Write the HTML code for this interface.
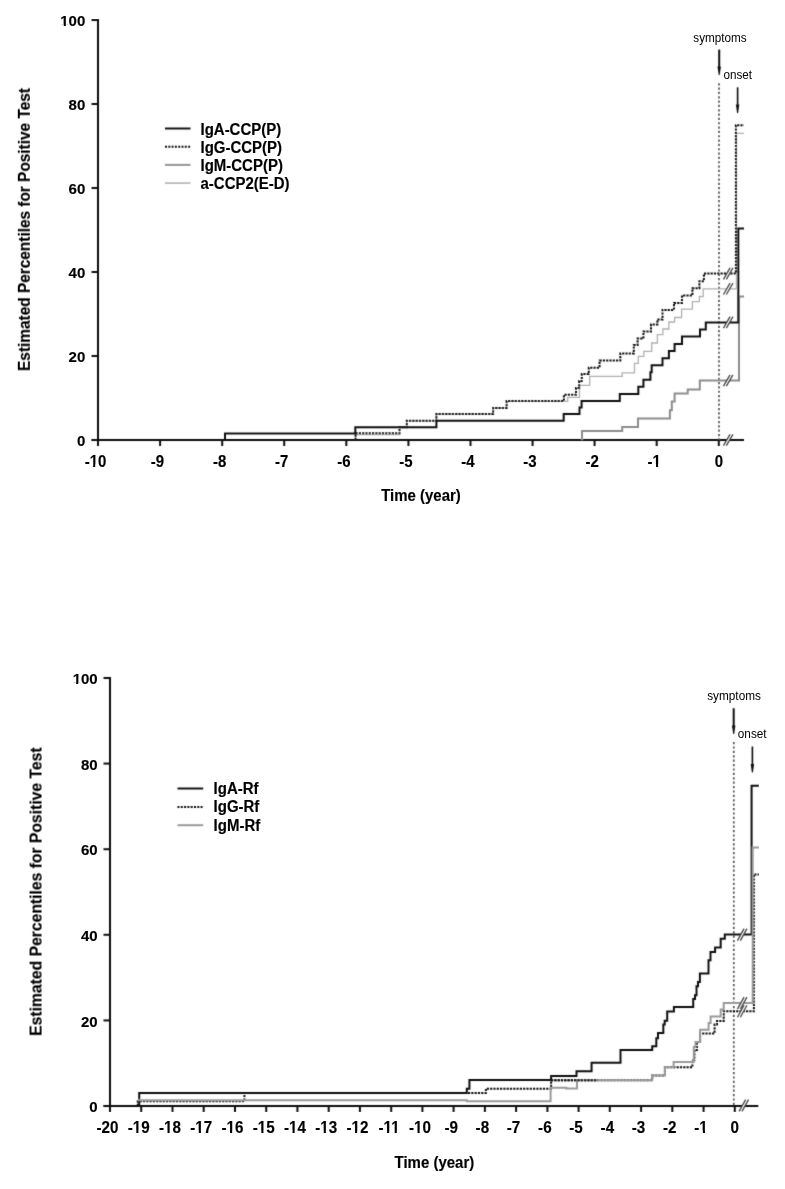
<!DOCTYPE html>
<html><head><meta charset="utf-8"><title>Estimated Percentiles for Positive Test</title>
<style>html,body{margin:0;padding:0;background:#fff;width:785px;height:1189px;overflow:hidden}svg{display:block}</style>
</head><body>
<svg width="785" height="1189" viewBox="0 0 785 1189">
<style>.ax{stroke:#111;stroke-width:2;fill:none}.t{font-family:"Liberation Sans",sans-serif;font-weight:bold;fill:#000;stroke:#000;stroke-width:0.15}.r{font-family:"Liberation Sans",sans-serif;fill:#000}.c{fill:none;stroke-linejoin:miter;stroke-linecap:butt}</style>
<defs><filter id="bl" x="0" y="0" width="100%" height="100%"><feConvolveMatrix order="3" kernelMatrix="0.0144 0.0912 0.0144 0.0912 0.5776 0.0912 0.0144 0.0912 0.0144" edgeMode="none"/></filter><filter id="id0" x="0" y="0" width="100%" height="100%"><feOffset dx="0" dy="0"/></filter></defs>
<rect width="785" height="1189" fill="#fff"/>
<g filter="url(#bl)">
<path d="M98 19V440" class="ax"/>
<path d="M91.5 440H98" class="ax"/>
<path d="M91.5 356H98" class="ax"/>
<path d="M91.5 272H98" class="ax"/>
<path d="M91.5 188H98" class="ax"/>
<path d="M91.5 104H98" class="ax"/>
<path d="M91.5 20H98" class="ax"/>
<path d="M91.5 440H744" class="ax"/>
<path d="M98 440V446" class="ax"/>
<path d="M160.1 440V446" class="ax"/>
<path d="M222.2 440V446" class="ax"/>
<path d="M284.2 440V446" class="ax"/>
<path d="M346.3 440V446" class="ax"/>
<path d="M408.4 440V446" class="ax"/>
<path d="M470.5 440V446" class="ax"/>
<path d="M532.6 440V446" class="ax"/>
<path d="M594.6 440V446" class="ax"/>
<path d="M656.7 440V446" class="ax"/>
<path d="M718.8 440V446" class="ax"/>
<path d="M719 83.2V440" stroke="#555" stroke-width="1.7" stroke-dasharray="2.2 2.13" fill="none"/>
<path d="M355.4 440H355.4V434.6H399.5V427.2H406.8V420.8H436.4V414.1H493.2V408H506.6V401.3H567.7V397.4H579.5V385.3H589.7V376.3H622.2V372.9H634.5V363.4H638.3V356.4H643.8V351.3H651.7V343H657.4V334.7H662.9V329H668.9V322H674.6V317.5H681.6V309.2H692.4V301.6H699.4V296.5H703.2V288.8H736.5V133.4H744" class="c" stroke="#b0b0b0" stroke-width="1.3"/>
<path d="M582 440H582V431H622.2V426.9H638V418.5H669.9V410.2H671.8V401.6H674.6V393.5H687.7V389.5H699.8V380.5H739V296.4H744" class="c" stroke="#8c8c8c" stroke-width="2"/>
<path d="M225 440H225V433.5H355.3V427.2H436.4V420.8H563.7V413.9H579.5V407.4H581.6V400.9H619.8V393.9H638.3V386.7H643.4V379.7H650.4V372.3H651.7V365.3H662.5V358.3H668.9V351H674.6V343.9H682V336.6H700V329.6H705.8V322.4H738.3V228.6H744" class="c" stroke="#111" stroke-width="2"/>
<path d="M355.6 440H355.6V433.3H399.5V427.2H406.8V420.8H436.4V414.1H493.2V408H506.6V401.1H563.9V394.8H576V388H579.2V381H581.8V374.1H588.8V367.7H599.6V360.5H620.3V353.4H633.8V345H637.6V338.5H643.4V331.5H651V324.5H657.4V319.4H662.5V309.9H674V302.9H682V295.6H692.4V288.2H699.4V281.2H703.9V273.6H735.9V125.2H744" class="c" stroke="#111" stroke-width="2" stroke-dasharray="2.2 1.1"/>
<path d="M723.5 445.7L730.1 434.3L732.9 434.3L726.3 445.7Z" fill="#fff"/><path d="M723.5 445.7L730.1 434.3M726.3 445.7L732.9 434.3" stroke="#333" stroke-width="1.3" fill="none"/>
<path d="M723.5 279.3L730.1 267.9L732.9 267.9L726.3 279.3Z" fill="#fff"/><path d="M723.5 279.3L730.1 267.9M726.3 279.3L732.9 267.9" stroke="#333" stroke-width="1.3" fill="none"/>
<path d="M723.5 294.5L730.1 283.1L732.9 283.1L726.3 294.5Z" fill="#fff"/><path d="M723.5 294.5L730.1 283.1M726.3 294.5L732.9 283.1" stroke="#333" stroke-width="1.3" fill="none"/>
<path d="M723.5 328.1L730.1 316.7L732.9 316.7L726.3 328.1Z" fill="#fff"/><path d="M723.5 328.1L730.1 316.7M726.3 328.1L732.9 316.7" stroke="#333" stroke-width="1.3" fill="none"/>
<path d="M723.5 386.2L730.1 374.8L732.9 374.8L726.3 386.2Z" fill="#fff"/><path d="M723.5 386.2L730.1 374.8M726.3 386.2L732.9 374.8" stroke="#333" stroke-width="1.3" fill="none"/>
<path d="M719.2 49.6V69" stroke="#111" stroke-width="2"/><path d="M717.5 66.5L718.7 75L719.7 75L720.9 66.5Z" fill="#111"/>
<path d="M737.6 87.3V107" stroke="#111" stroke-width="1.6"/><path d="M735.9 104.5L737.1 113L738.1 113L739.3 104.5Z" fill="#111"/>
<path d="M165 128.5H190.5" stroke="#111" stroke-width="2"/>
<path d="M165 146.7H190.5" stroke="#111" stroke-width="2" stroke-dasharray="2 1.3"/>
<path d="M165 164.9H190.5" stroke="#959595" stroke-width="2"/>
<path d="M165 183.1H190.5" stroke="#b3b3b3" stroke-width="1.6"/>
<path d="M110 677V1106" class="ax"/>
<path d="M103.5 1106H110" class="ax"/>
<path d="M103.5 1020.4H110" class="ax"/>
<path d="M103.5 934.8H110" class="ax"/>
<path d="M103.5 849.2H110" class="ax"/>
<path d="M103.5 763.6H110" class="ax"/>
<path d="M103.5 678H110" class="ax"/>
<path d="M103.5 1106H758.3" class="ax"/>
<path d="M110 1106V1112" class="ax"/>
<path d="M141.2 1106V1112" class="ax"/>
<path d="M172.5 1106V1112" class="ax"/>
<path d="M203.7 1106V1112" class="ax"/>
<path d="M235 1106V1112" class="ax"/>
<path d="M266.2 1106V1112" class="ax"/>
<path d="M297.4 1106V1112" class="ax"/>
<path d="M328.7 1106V1112" class="ax"/>
<path d="M359.9 1106V1112" class="ax"/>
<path d="M391.2 1106V1112" class="ax"/>
<path d="M422.4 1106V1112" class="ax"/>
<path d="M453.6 1106V1112" class="ax"/>
<path d="M484.9 1106V1112" class="ax"/>
<path d="M516.1 1106V1112" class="ax"/>
<path d="M547.4 1106V1112" class="ax"/>
<path d="M578.6 1106V1112" class="ax"/>
<path d="M609.8 1106V1112" class="ax"/>
<path d="M641.1 1106V1112" class="ax"/>
<path d="M672.3 1106V1112" class="ax"/>
<path d="M703.6 1106V1112" class="ax"/>
<path d="M734.8 1106V1112" class="ax"/>
<path d="M733.8 742V1106" stroke="#555" stroke-width="1.7" stroke-dasharray="2.2 2.2" fill="none"/>
<path d="M139.2 1106H139.2V1093H466.8V1088.7H469.4V1080.1H551.1V1075.9H576.5V1071.2H591.6V1062.8H620.5V1050H652.2V1046.2H656.3V1038.3H658V1033.1H663.3V1024.4H664.7V1020.8H667.2V1011.6H673.9V1007.1H693.2V998.9H695V995.3H696.5V986.2H698V982.1H699.9V973.4H708.5V960.2H710.5V952H715.1V947.4H720.7V938.8H724.8V934.6H751.6V785.7H758.9" class="c" stroke="#111" stroke-width="2"/>
<path d="M137.8 1106H137.8V1101.2H244.4V1093H485.9V1088.7H551.1V1080.2H652.2V1075.6H664.9V1067.3H692.4V1060H694.5V1050H697V1042H700.1V1033.4H714.6V1024.6H717V1020.9H723.7V1011.3H753.9V874.4H759" class="c" stroke="#111" stroke-width="2" stroke-dasharray="2.2 1.1"/>
<path d="M138 1100.2H466.8V1101.3H550.6V1087.8H566.3V1088.6H577V1080.2H652.2V1075.6H664.9V1067.3H673.6V1062H693.8V1047H695.5V1042.1H700.1V1029.7H708.6V1022.9H710.6V1016.5H720.7V1009.5H723.7V1003.1H752.7V847.6H759" class="c" stroke="#999" stroke-width="2"/>
<path d="M551.1 1080.2H597.5" class="c" stroke="#111" stroke-width="2" stroke-dasharray="2.2 1.1"/>
<path d="M739.1 1111.4L745.7 1099.6L748.5 1099.6L741.9 1111.4Z" fill="#fff"/><path d="M739.1 1111.4L745.7 1099.6M741.9 1111.4L748.5 1099.6" stroke="#333" stroke-width="1.3" fill="none"/>
<path d="M737.5 940.6L744.1 928.6L746.9 928.6L740.3 940.6Z" fill="#fff"/><path d="M737.5 940.6L744.1 928.6M740.3 940.6L746.9 928.6" stroke="#333" stroke-width="1.3" fill="none"/>
<path d="M737.5 1009.1L744.1 997.1L746.9 997.1L740.3 1009.1Z" fill="#fff"/><path d="M737.5 1009.1L744.1 997.1M740.3 1009.1L746.9 997.1" stroke="#333" stroke-width="1.3" fill="none"/>
<path d="M737.5 1017.3L744.1 1005.3L746.9 1005.3L740.3 1017.3Z" fill="#fff"/><path d="M737.5 1017.3L744.1 1005.3M740.3 1017.3L746.9 1005.3" stroke="#333" stroke-width="1.3" fill="none"/>
<path d="M733.7 708.2V728" stroke="#111" stroke-width="2"/><path d="M732.0 725.5L733.2 734L734.2 734L735.4 725.5Z" fill="#111"/>
<path d="M752.4 746.5V766.6" stroke="#111" stroke-width="1.6"/><path d="M750.7 764.1L751.9 772.6L752.9 772.6L754.1 764.1Z" fill="#111"/>
<path d="M177.5 788.5H203.2" stroke="#111" stroke-width="2"/>
<path d="M177.5 806.9H203.2" stroke="#111" stroke-width="2" stroke-dasharray="2 1.3"/>
<path d="M177.5 825.2H203.2" stroke="#9a9a9a" stroke-width="2"/>
</g>
<g class="txt" filter="url(#id0)">
<text class="t yt" transform="matrix(1 0 0 1.0 85.3 446.1)" font-size="15" text-anchor="end">0</text>
<text class="t yt" transform="matrix(1 0 0 1.0 85.3 362.1)" font-size="15" text-anchor="end">20</text>
<text class="t yt" transform="matrix(1 0 0 1.0 85.3 278.1)" font-size="15" text-anchor="end">40</text>
<text class="t yt" transform="matrix(1 0 0 1.0 85.3 194.1)" font-size="15" text-anchor="end">60</text>
<text class="t yt" transform="matrix(1 0 0 1.0 85.3 110.1)" font-size="15" text-anchor="end">80</text>
<text class="t yt" transform="matrix(1 0 0 1.0 85.3 26.1)" font-size="15" text-anchor="end">100</text>
<text class="t" transform="matrix(1 0 0 1.05 106.3 466.5)" font-size="15" text-anchor="end">-10</text>
<text class="t" transform="matrix(1 0 0 1.05 164.2 466.5)" font-size="15" text-anchor="end">-9</text>
<text class="t" transform="matrix(1 0 0 1.05 226.3 466.5)" font-size="15" text-anchor="end">-8</text>
<text class="t" transform="matrix(1 0 0 1.05 288.4 466.5)" font-size="15" text-anchor="end">-7</text>
<text class="t" transform="matrix(1 0 0 1.05 350.5 466.5)" font-size="15" text-anchor="end">-6</text>
<text class="t" transform="matrix(1 0 0 1.05 412.6 466.5)" font-size="15" text-anchor="end">-5</text>
<text class="t" transform="matrix(1 0 0 1.05 474.7 466.5)" font-size="15" text-anchor="end">-4</text>
<text class="t" transform="matrix(1 0 0 1.05 536.7 466.5)" font-size="15" text-anchor="end">-3</text>
<text class="t" transform="matrix(1 0 0 1.05 598.8 466.5)" font-size="15" text-anchor="end">-2</text>
<text class="t" transform="matrix(1 0 0 1.05 660.9 466.5)" font-size="15" text-anchor="end">-1</text>
<text class="t" transform="matrix(1 0 0 1.05 723 466.5)" font-size="15" text-anchor="end">0</text>
<text class="t" transform="matrix(1 0 0 1.05 421 501.5)" font-size="15" text-anchor="middle">Time (year)</text>
<text class="t" font-size="15.4" text-anchor="middle" transform="translate(29.8 229.5) rotate(-90) scale(1 1.07)">Estimated Percentiles for Positive Test</text>
<text class="r" transform="matrix(1 0 0 1.02 693.3 41.6)" font-size="11.7">symptoms</text>
<text class="r" transform="matrix(1 0 0 1.02 723.5 79)" font-size="11.7">onset</text>
<text class="t" transform="matrix(1 0 0 1.05 200.5 134.5)" font-size="15">IgA-CCP(P)</text>
<text class="t" transform="matrix(1 0 0 1.05 200.5 152.7)" font-size="15">IgG-CCP(P)</text>
<text class="t" transform="matrix(1 0 0 1.05 200.5 170.9)" font-size="15">IgM-CCP(P)</text>
<text class="t" transform="matrix(1 0 0 1.05 200.5 189.1)" font-size="15">a-CCP2(E-D)</text>
<text class="t yt" transform="matrix(1 0 0 1.0 97.7 1112.1)" font-size="15" text-anchor="end">0</text>
<text class="t yt" transform="matrix(1 0 0 1.0 97.7 1026.5)" font-size="15" text-anchor="end">20</text>
<text class="t yt" transform="matrix(1 0 0 1.0 97.7 940.9)" font-size="15" text-anchor="end">40</text>
<text class="t yt" transform="matrix(1 0 0 1.0 97.7 855.3)" font-size="15" text-anchor="end">60</text>
<text class="t yt" transform="matrix(1 0 0 1.0 97.7 769.7)" font-size="15" text-anchor="end">80</text>
<text class="t yt" transform="matrix(1 0 0 1.0 97.7 684.1)" font-size="15" text-anchor="end">100</text>
<text class="t" transform="matrix(1 0 0 1.05 118.5 1132.7)" font-size="15.2" text-anchor="end">-20</text>
<text class="t" transform="matrix(1 0 0 1.05 149.7 1132.7)" font-size="15.2" text-anchor="end">-19</text>
<text class="t" transform="matrix(1 0 0 1.05 180.9 1132.7)" font-size="15.2" text-anchor="end">-18</text>
<text class="t" transform="matrix(1 0 0 1.05 212.2 1132.7)" font-size="15.2" text-anchor="end">-17</text>
<text class="t" transform="matrix(1 0 0 1.05 243.4 1132.7)" font-size="15.2" text-anchor="end">-16</text>
<text class="t" transform="matrix(1 0 0 1.05 274.7 1132.7)" font-size="15.2" text-anchor="end">-15</text>
<text class="t" transform="matrix(1 0 0 1.05 305.9 1132.7)" font-size="15.2" text-anchor="end">-14</text>
<text class="t" transform="matrix(1 0 0 1.05 337.1 1132.7)" font-size="15.2" text-anchor="end">-13</text>
<text class="t" transform="matrix(1 0 0 1.05 368.4 1132.7)" font-size="15.2" text-anchor="end">-12</text>
<text class="t" transform="matrix(1 0 0 1.05 399.6 1132.7)" font-size="15.2" text-anchor="end">-11</text>
<text class="t" transform="matrix(1 0 0 1.05 430.9 1132.7)" font-size="15.2" text-anchor="end">-10</text>
<text class="t" transform="matrix(1 0 0 1.05 457.9 1132.7)" font-size="15.2" text-anchor="end">-9</text>
<text class="t" transform="matrix(1 0 0 1.05 489.1 1132.7)" font-size="15.2" text-anchor="end">-8</text>
<text class="t" transform="matrix(1 0 0 1.05 520.3 1132.7)" font-size="15.2" text-anchor="end">-7</text>
<text class="t" transform="matrix(1 0 0 1.05 551.6 1132.7)" font-size="15.2" text-anchor="end">-6</text>
<text class="t" transform="matrix(1 0 0 1.05 582.8 1132.7)" font-size="15.2" text-anchor="end">-5</text>
<text class="t" transform="matrix(1 0 0 1.05 614.1 1132.7)" font-size="15.2" text-anchor="end">-4</text>
<text class="t" transform="matrix(1 0 0 1.05 645.3 1132.7)" font-size="15.2" text-anchor="end">-3</text>
<text class="t" transform="matrix(1 0 0 1.05 676.5 1132.7)" font-size="15.2" text-anchor="end">-2</text>
<text class="t" transform="matrix(1 0 0 1.05 707.8 1132.7)" font-size="15.2" text-anchor="end">-1</text>
<text class="t" transform="matrix(1 0 0 1.05 739 1132.7)" font-size="15.2" text-anchor="end">0</text>
<text class="t" transform="matrix(1 0 0 1.05 434.4 1168.2)" font-size="15" text-anchor="middle">Time (year)</text>
<text class="t" font-size="15.7" text-anchor="middle" transform="translate(41.6 891.6) rotate(-90) scale(1 1.07)">Estimated Percentiles for Positive Test</text>
<text class="r" transform="matrix(1 0 0 1.02 707.2 699.6)" font-size="11.8">symptoms</text>
<text class="r" transform="matrix(1 0 0 1.02 737.8 738)" font-size="11.8">onset</text>
<text class="t" transform="matrix(1 0 0 1.05 213.6 794)" font-size="15">IgA-Rf</text>
<text class="t" transform="matrix(1 0 0 1.05 213.6 812.4)" font-size="15">IgG-Rf</text>
<text class="t" transform="matrix(1 0 0 1.05 213.6 830.7)" font-size="15">IgM-Rf</text>
<path fill="#fff" d="M-24.89 -1.82H-21.56V0.66H-24.89ZM-19.44 -1.82H-16.30V0.66H-19.44Z" transform="matrix(1 0 0 1.0 85.3 26.1)"/>
<path fill="#fff" d="M-16.53 -1.82H-13.20V0.66H-16.53ZM-11.08 -1.82H-7.94V0.66H-11.08Z" transform="matrix(1 0 0 1.05 106.3 466.5)"/>
<path fill="#fff" d="M-8.21 -1.82H-4.88V0.66H-8.21ZM-2.76 -1.82H0.38V0.66H-2.76Z" transform="matrix(1 0 0 1.05 660.9 466.5)"/>
<path fill="#fff" d="M-24.89 -1.82H-21.56V0.66H-24.89ZM-19.44 -1.82H-16.30V0.66H-19.44Z" transform="matrix(1 0 0 1.0 97.7 684.1)"/>
<path fill="#fff" d="M-16.76 -1.85H-13.38V0.67H-16.76ZM-11.24 -1.85H-8.05V0.67H-11.24Z" transform="matrix(1 0 0 1.05 149.7 1132.7)"/>
<path fill="#fff" d="M-16.76 -1.85H-13.38V0.67H-16.76ZM-11.24 -1.85H-8.05V0.67H-11.24Z" transform="matrix(1 0 0 1.05 180.9 1132.7)"/>
<path fill="#fff" d="M-16.76 -1.85H-13.38V0.67H-16.76ZM-11.24 -1.85H-8.05V0.67H-11.24Z" transform="matrix(1 0 0 1.05 212.2 1132.7)"/>
<path fill="#fff" d="M-16.76 -1.85H-13.38V0.67H-16.76ZM-11.24 -1.85H-8.05V0.67H-11.24Z" transform="matrix(1 0 0 1.05 243.4 1132.7)"/>
<path fill="#fff" d="M-16.76 -1.85H-13.38V0.67H-16.76ZM-11.24 -1.85H-8.05V0.67H-11.24Z" transform="matrix(1 0 0 1.05 274.7 1132.7)"/>
<path fill="#fff" d="M-16.76 -1.85H-13.38V0.67H-16.76ZM-11.24 -1.85H-8.05V0.67H-11.24Z" transform="matrix(1 0 0 1.05 305.9 1132.7)"/>
<path fill="#fff" d="M-16.76 -1.85H-13.38V0.67H-16.76ZM-11.24 -1.85H-8.05V0.67H-11.24Z" transform="matrix(1 0 0 1.05 337.1 1132.7)"/>
<path fill="#fff" d="M-16.76 -1.85H-13.38V0.67H-16.76ZM-11.24 -1.85H-8.05V0.67H-11.24Z" transform="matrix(1 0 0 1.05 368.4 1132.7)"/>
<path fill="#fff" d="M-15.92 -1.85H-12.54V0.67H-15.92ZM-10.40 -1.85H-7.22V0.67H-10.40ZM-8.32 -1.85H-4.94V0.67H-8.32ZM-2.79 -1.85H0.39V0.67H-2.79Z" transform="matrix(1 0 0 1.05 399.6 1132.7)"/>
<path fill="#fff" d="M-16.76 -1.85H-13.38V0.67H-16.76ZM-11.24 -1.85H-8.05V0.67H-11.24Z" transform="matrix(1 0 0 1.05 430.9 1132.7)"/>
<path fill="#fff" d="M-8.32 -1.85H-4.94V0.67H-8.32ZM-2.79 -1.85H0.39V0.67H-2.79Z" transform="matrix(1 0 0 1.05 707.8 1132.7)"/>
</g></svg>
</body></html>
